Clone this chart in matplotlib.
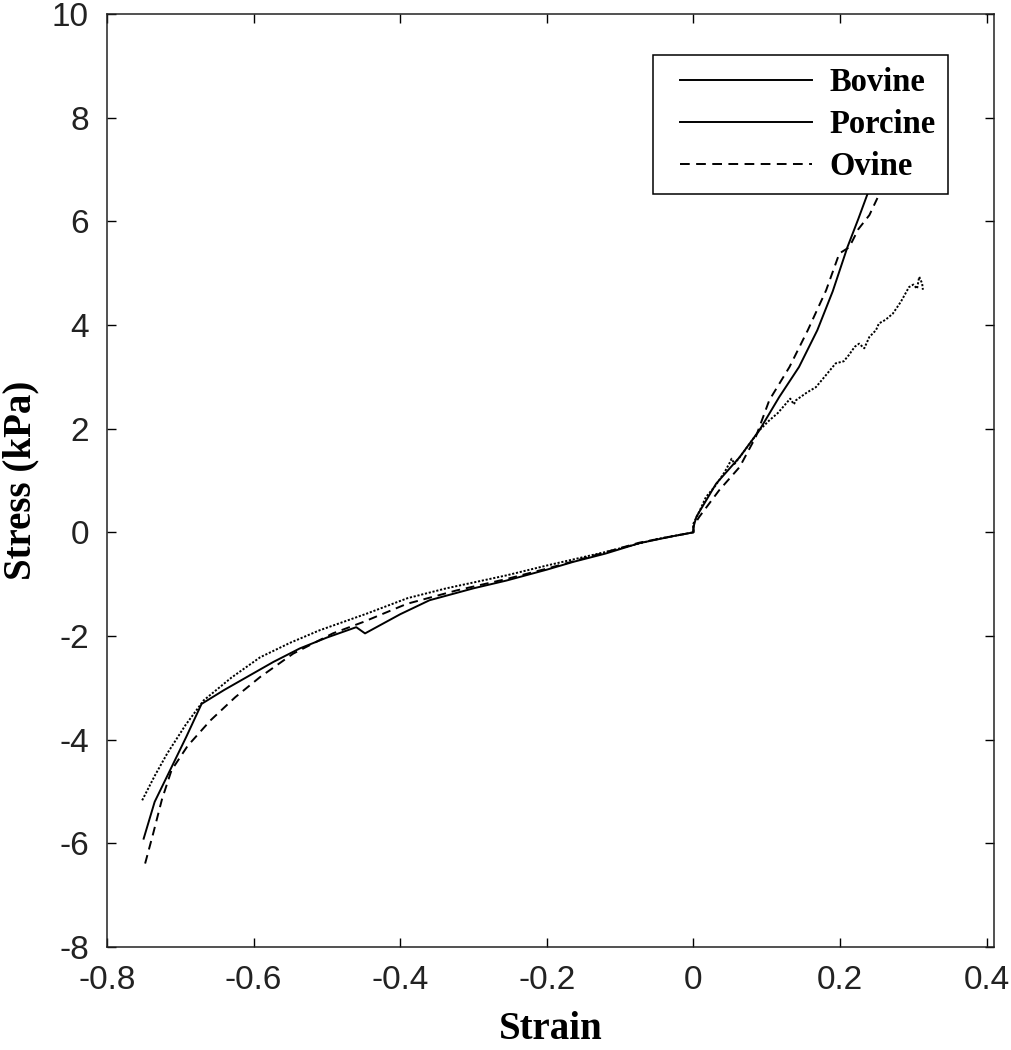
import matplotlib
matplotlib.use("Agg")
import matplotlib.pyplot as plt
from matplotlib.lines import Line2D
from matplotlib.legend_handler import HandlerLine2D

plt.rcParams['axes.unicode_minus'] = False

# Bovine (solid)
bov_x = [-0.750, -0.735, -0.714, -0.692, -0.671, -0.640, -0.609, -0.573, -0.537, -0.500,
         -0.460, -0.448, -0.400, -0.360, -0.300, -0.255, -0.200, -0.164, -0.120, -0.074,
         -0.030, 0.0, 0.0, 0.004, 0.031, 0.063, 0.090, 0.117, 0.144, 0.169,
         0.190, 0.210, 0.225, 0.2375, 0.245]
bov_y = [-5.91, -5.20, -4.59, -3.95, -3.31, -3.04, -2.79, -2.50, -2.24, -2.03,
         -1.83, -1.95, -1.58, -1.31, -1.08, -0.93, -0.72, -0.57, -0.41, -0.21,
         -0.08, 0.0, 0.10, 0.30, 0.94, 1.45, 1.97, 2.61, 3.19, 3.90,
         4.65, 5.50, 6.05, 6.53, 6.90]

# Ovine (dashed)
ovi_x = [-0.748, -0.737, -0.725, -0.712, -0.690, -0.659, -0.625, -0.591, -0.546, -0.492,
         -0.4505, -0.391, -0.323, -0.255, -0.200, -0.164, -0.074, -0.030, 0.0, 0.0,
         0.008, 0.035, 0.063, 0.085, 0.1035, 0.131, 0.156, 0.181, 0.199, 0.2125,
         0.225, 0.240, 0.251]
ovi_y = [-6.39, -5.81, -5.15, -4.59, -4.12, -3.63, -3.18, -2.79, -2.34, -1.95,
         -1.73, -1.38, -1.12, -0.90, -0.70, -0.56, -0.20, -0.08, 0.0, 0.12,
         0.30, 0.81, 1.26, 1.84, 2.55, 3.19, 3.90, 4.67, 5.38, 5.50,
         5.85, 6.12, 6.45]

# Porcine (dotted, noisy in tension)
por_x = [-0.752, -0.735, -0.718, -0.693, -0.668, -0.630, -0.591, -0.550, -0.510, -0.446,
         -0.390, -0.337, -0.255, -0.200, -0.120, -0.050, 0.0, 0.0, 0.008, 0.017,
         0.030, 0.042, 0.049, 0.052, 0.056, 0.070, 0.090, 0.1035, 0.115, 0.126,
         0.132, 0.137, 0.140, 0.155, 0.167, 0.180, 0.194, 0.205, 0.212, 0.220,
         0.226, 0.233, 0.240, 0.249, 0.253, 0.262, 0.272, 0.283, 0.294, 0.300,
         0.305, 0.308, 0.312, 0.313]
por_y = [-5.17, -4.70, -4.27, -3.72, -3.24, -2.80, -2.41, -2.13, -1.89, -1.57,
         -1.27, -1.08, -0.83, -0.64, -0.38, -0.13, 0.0, 0.17, 0.40, 0.68,
         0.90, 1.15, 1.33, 1.42, 1.32, 1.58, 1.97, 2.16, 2.30, 2.48,
         2.58, 2.47, 2.55, 2.70, 2.80, 3.02, 3.26, 3.30, 3.42, 3.58,
         3.64, 3.55, 3.77, 3.90, 4.03, 4.10, 4.22, 4.45, 4.73, 4.78,
         4.70, 4.93, 4.80, 4.68]

x_ticks = [-0.8, -0.6, -0.4, -0.2, 0, 0.2, 0.4]
x_labels = ['-0.8', '-0.6', '-0.4', '-0.2', '0', '0.2', '0.4']
y_ticks = [-8, -6, -4, -2, 0, 2, 4, 6, 8, 10]

fig = plt.figure(figsize=(10.11, 10.5), dpi=100)
ax = fig.add_axes([107 / 1011, 103 / 1050, 887 / 1011, 933 / 1050])

lw = 1.4
ax.plot(bov_x, bov_y, color='black', lw=lw, solid_joinstyle='round')
ax.plot(ovi_x, ovi_y, color='black', lw=lw, dashes=(4.5, 3.0))
ax.plot(por_x, por_y, color='black', lw=lw, dashes=(1.1, 0.9))

ax.set_xlim(-0.8, 0.41)
ax.set_ylim(-8, 10)
ax.set_xticks(x_ticks)
ax.set_xticklabels(x_labels)
ax.set_yticks(y_ticks)
ax.set_yticklabels([str(v) for v in y_ticks])

ax.tick_params(direction='in', length=6.5, width=1.0, top=True, right=True,
               labelsize=24, pad=13)
for lab in ax.get_xticklabels() + ax.get_yticklabels():
    lab.set_fontfamily('Liberation Sans')
    lab.set_color('#222222')
for sp in ax.spines.values():
    sp.set_linewidth(1.1)
    sp.set_color('#222222')

ax.set_xlabel('Strain', fontfamily='Liberation Serif', fontweight='bold',
              fontsize=28, labelpad=11)
ax.set_ylabel('Stress (kPa)', fontfamily='Liberation Serif', fontweight='bold',
              fontsize=28, labelpad=9)

handles = [Line2D([], [], color='black', lw=lw),
           Line2D([], [], color='black', lw=lw),
           Line2D([], [], color='black', lw=lw, dashes=(5.0, 3.3))]
leg = ax.legend(handles, ['Bovine', 'Porcine', 'Ovine'], loc='upper right',
                bbox_to_anchor=(0.948, 0.956), frameon=True, fancybox=False,
                framealpha=1, edgecolor='black', handlelength=4.5,
                handletextpad=0.52, labelspacing=0.33, borderpad=0.38,
                borderaxespad=0.0,
                handler_map={Line2D: HandlerLine2D(xpad=0.45)},
                prop={'family': 'Liberation Serif', 'weight': 'bold', 'size': 23.5})
leg.get_frame().set_linewidth(1.1)

fig.savefig('out.png', dpi=100)
